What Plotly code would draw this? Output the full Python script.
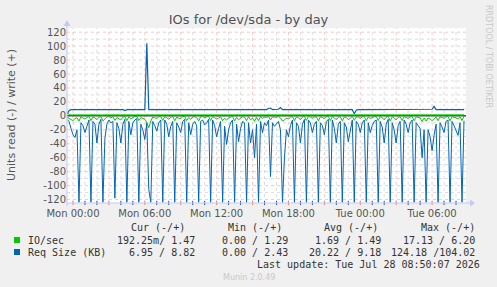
import pandas as pd
import plotly.graph_objects as go

# ---------------- data (10-minute samples, start Sun 23:30) ----------------
start_time = "2026-07-26 23:30"
n_points = 200

read_req_kb = [
    5, 8, 18, 27, 31, 20,
    124, 10, 14, 24, 15, 6,
    124, 8, 12, 39, 12, 5,
    124, 32, 12, 6, 10, 8,
    118, 10, 18, 39, 12, 5,
    124, 8, 27, 10, 6, 4,
    124, 12, 20, 34, 10, 106,
    124, 8, 14, 22, 10, 6,
    124, 6, 12, 30, 15, 8,
    124, 10, 16, 24, 8, 5,
    124, 10, 27, 12, 8, 14,
    124, 8, 6, 13, 10, 5,
    124, 6, 14, 30, 18, 8,
    124, 15, 41, 20, 10, 6,
    124, 12, 37, 18, 8, 10,
    124, 10, 39, 20, 60, 12,
    124, 8, 24, 10, 14, 6,
    87, 10, 15, 12, 8, 20,
    124, 60, 20, 30, 14, 6,
    124, 10, 15, 39, 12, 5,
    124, 6, 10, 24, 12, 8,
    124, 10, 14, 27, 8, 5,
    124, 6, 18, 39, 12, 8,
    124, 10, 16, 37, 20, 6,
    124, 8, 12, 24, 10, 6,
    124, 10, 24, 14, 8, 6,
    124, 8, 16, 39, 12, 5,
    124, 10, 20, 39, 14, 8,
    124, 6, 12, 24, 10, 6,
    124, 10, 14, 18, 60, 20,
    124, 20, 30, 50, 28, 12,
    124, 10, 16, 24, 8, 6,
    124, 8, 14, 22, 28, 10,
    124, 6.95,
]

write_req_kb = [
    2.4, 7.5, 8.9, 8.8, 8.7, 8.8, 8.9, 8.8, 8.8, 8.8,
    8.8, 8.8, 8.8, 8.8, 8.8, 8.8, 8.8, 8.8, 8.8, 8.8,
    8.8, 8.8, 8.8, 8.8, 8.8, 8.8, 8.8, 8.8, 8.8, 7.6,
    8.8, 8.8, 8.8, 8.8, 8.8, 8.0, 8.8, 8.8, 8.8, 8.8,
    104.0, 9.0, 8.8, 8.8, 8.8, 8.8, 8.8, 8.8, 8.8, 8.8,
    8.8, 8.8, 8.8, 8.8, 8.8, 8.8, 8.8, 8.8, 8.8, 8.8,
    8.8, 8.8, 8.8, 8.8, 8.8, 8.8, 8.8, 8.8, 8.8, 8.8,
    8.8, 8.8, 8.8, 8.8, 8.8, 8.8, 8.8, 8.8, 8.8, 8.8,
    8.8, 8.8, 8.8, 8.8, 8.8, 8.8, 8.8, 8.8, 8.8, 8.8,
    8.8, 8.8, 8.8, 8.8, 8.8, 8.8, 8.8, 8.8, 8.8, 8.8,
    8.8, 10.5, 11.2, 8.8, 8.8, 8.8, 9.5, 12.0, 8.8, 8.8,
    8.8, 8.8, 8.8, 8.8, 8.8, 8.8, 8.8, 8.8, 8.8, 8.8,
    8.8, 8.8, 8.8, 8.8, 8.8, 8.8, 8.8, 8.8, 8.8, 8.8,
    8.8, 8.8, 8.8, 8.8, 8.8, 8.8, 8.8, 8.8, 8.8, 8.8,
    8.8, 8.8, 8.8, 8.8, 3.0, 8.0, 8.8, 9.3, 8.8, 8.8,
    8.8, 8.8, 8.8, 8.8, 8.8, 8.8, 8.8, 8.8, 8.8, 8.8,
    8.8, 8.8, 8.8, 8.8, 8.8, 8.8, 8.8, 8.8, 8.8, 8.8,
    8.8, 8.8, 8.8, 8.8, 8.8, 8.8, 8.8, 8.8, 8.8, 8.8,
    8.8, 8.8, 8.8, 9.5, 13.5, 9.0, 8.8, 8.8, 8.8, 8.8,
    8.8, 8.8, 8.8, 8.8, 8.8, 8.8, 8.8, 8.8, 8.8, 8.82,
]

read_io = [
    2.1, 3.5, 5.2, 6.8, 4.0, 2.5, 7.5, 1.2, 3.0, 4.6,
    2.2, 0.8, 6.9, 1.5, 2.8, 5.5, 2.0, 0.9, 7.2, 4.4,
    1.6, 0.7, 3.1, 1.0, 6.5, 2.4, 3.8, 5.9, 2.0, 0.8,
    7.0, 1.3, 4.2, 2.1, 1.0, 0.6, 6.8, 2.5, 3.9, 4.8,
    9.5, 17.1, 7.4, 1.8, 2.9, 3.6, 1.4, 0.9, 6.6, 1.2,
    2.6, 4.9, 2.2, 0.8, 7.1, 1.9, 3.4, 3.8, 1.1, 0.7,
    6.9, 2.3, 5.0, 1.6, 1.2, 2.7, 7.3, 1.0, 0.8, 2.9,
    1.5, 0.6, 6.7, 1.1, 2.6, 4.7, 3.2, 1.2, 7.0, 3.4,
    6.1, 3.0, 1.7, 0.9, 7.2, 2.0, 5.6, 3.1, 1.2, 1.8,
    6.8, 1.4, 5.8, 3.3, 7.9, 1.9, 7.1, 1.0, 3.5, 1.6,
    2.4, 0.8, 5.9, 1.7, 2.2, 1.9, 1.0, 3.0, 7.4, 6.0,
    3.1, 4.4, 2.3, 0.9, 7.0, 1.5, 2.4, 5.8, 1.9, 0.7,
    6.6, 0.9, 1.6, 3.6, 2.0, 1.2, 7.2, 1.4, 2.2, 4.1,
    1.3, 0.8, 6.9, 1.0, 2.8, 5.7, 2.0, 1.3, 7.1, 1.6,
    2.5, 5.5, 3.2, 0.9, 6.4, 1.2, 1.8, 3.7, 1.6, 0.9,
    7.0, 1.5, 3.6, 2.1, 1.3, 0.9, 6.8, 1.2, 2.5, 5.8,
    1.9, 0.8, 7.3, 1.5, 3.0, 5.9, 2.2, 1.2, 6.7, 1.0,
    1.8, 3.7, 1.6, 0.9, 7.0, 1.5, 2.1, 2.8, 8.2, 3.0,
    7.4, 3.0, 4.5, 6.9, 4.2, 1.8, 6.9, 1.5, 2.4, 3.6,
    1.3, 0.9, 7.1, 1.2, 2.0, 3.3, 4.0, 1.5, 6.8, 0.19,
]

write_io = [
    6.2, 1.6, 1.4, 1.3, 1.5, 1.4, 1.4, 1.3, 1.4, 1.5,
    1.4, 1.4, 1.5, 1.3, 1.4, 1.4, 1.5, 1.4, 1.3, 1.4,
    1.4, 1.5, 1.4, 1.4, 1.3, 1.5, 1.4, 1.4, 1.5, 1.3,
    1.4, 1.4, 1.5, 1.4, 1.3, 1.4, 1.4, 1.5, 1.4, 1.4,
    1.6, 1.5, 1.4, 1.3, 1.4, 1.5, 1.4, 1.4, 1.3, 1.4,
    1.5, 1.4, 1.4, 1.3, 1.5, 1.4, 1.4, 1.5, 1.3, 1.4,
    1.4, 1.5, 1.4, 1.4, 1.3, 1.4, 1.5, 1.4, 1.4, 1.3,
    1.4, 1.5, 1.4, 1.3, 1.4, 1.4, 1.5, 1.4, 1.4, 1.3,
    1.5, 1.4, 1.4, 1.3, 1.4, 1.5, 1.4, 1.4, 1.5, 1.3,
    1.4, 1.4, 1.5, 1.4, 1.3, 1.4, 1.4, 1.5, 1.4, 1.4,
    1.5, 1.6, 1.5, 1.4, 1.3, 1.4, 1.5, 1.6, 1.4, 1.3,
    1.4, 1.5, 1.4, 1.4, 1.3, 1.4, 1.5, 1.4, 1.4, 1.3,
    1.4, 1.5, 1.4, 1.3, 1.4, 1.4, 1.5, 1.4, 1.4, 1.3,
    1.5, 1.4, 1.4, 1.3, 1.4, 1.5, 1.4, 1.4, 1.5, 1.3,
    1.4, 1.4, 1.5, 1.4, 1.5, 1.4, 1.4, 1.5, 1.4, 1.4,
    1.5, 1.4, 1.4, 1.3, 1.4, 1.4, 1.5, 1.4, 1.4, 1.3,
    1.4, 1.5, 1.4, 1.4, 1.3, 1.4, 1.5, 1.4, 1.4, 1.3,
    1.4, 1.5, 1.4, 1.3, 1.4, 1.4, 1.5, 1.4, 1.4, 1.3,
    1.5, 1.4, 1.4, 1.5, 1.6, 1.4, 1.4, 1.5, 1.4, 1.3,
    1.4, 1.4, 1.5, 1.4, 1.3, 1.4, 1.5, 1.4, 1.4, 1.47,
]

y_ticks = [-120, -100, -80, -60, -40, -20, 0, 20, 40, 60, 80, 100, 120]
y_tick_labels = ["-120", "-100", "-80", "-60", "-40", "-20", "0",
                 "20", "40", "60", "80", "100", "120"]

legend_header = ["Cur (-/+)", "Min (-/+)", "Avg (-/+)", "Max (-/+)"]
legend_rows = [
    ("IO/sec", "#00cc00", ["192.25m/ 1.47", "0.00 / 1.29", "1.69 / 1.49", "17.13 / 6.20"]),
    ("Req Size (KB)", "#0066b3", ["6.95 / 8.82", "0.00 / 2.43", "20.22 / 9.18", "124.18 /104.02"]),
]

# ---------------- layout geometry ----------------
W, H = 497, 287
L, R, T, B = 67, 466, 28, 203


def px(x):
    return (x - L) / (R - L)


def py(y):
    return (B - y) / (B - T)


times = pd.date_range(start_time, periods=n_points, freq="10min")
x_start = times[0]
x_end = times[0] + pd.Timedelta(minutes=10 * n_points)

GREEN = "#00cc00"
BLUE = "#0066b3"

fig = go.Figure()
fig.add_trace(go.Scatter(x=times, y=[-v for v in read_req_kb], mode="lines",
                         line=dict(color=BLUE, width=1), hoverinfo="skip"))
fig.add_trace(go.Scatter(x=times, y=write_req_kb, mode="lines",
                         line=dict(color=BLUE, width=1.2), hoverinfo="skip"))
fig.add_trace(go.Scatter(x=[x_start, x_end], y=[0, 0], mode="lines",
                         line=dict(color="#000000", width=1), hoverinfo="skip"))
fig.add_trace(go.Scatter(x=times, y=[-v for v in read_io], mode="lines",
                         line=dict(color=GREEN, width=1), hoverinfo="skip"))
fig.add_trace(go.Scatter(x=times, y=write_io, mode="lines",
                         line=dict(color=GREEN, width=1), hoverinfo="skip"))

shapes = []
RED_GRID = "rgba(220,90,90,0.32)"
GREY_GRID = "rgba(150,150,150,0.32)"
# horizontal grid
for v in range(-120, 121, 10):
    shapes.append(dict(type="line", xref="paper", yref="y", x0=0, x1=1, y0=v, y1=v,
                       line=dict(color=RED_GRID if v % 20 == 0 else GREY_GRID,
                                 width=1, dash="dot"), layer="below"))
# vertical grid (hourly, red every 3 hours)
t = pd.Timestamp("2026-07-27 00:00")
while t < x_end:
    major = (t.hour % 3 == 0)
    shapes.append(dict(type="line", xref="x", yref="paper", x0=t, x1=t, y0=0, y1=1,
                       line=dict(color=RED_GRID if major else GREY_GRID,
                                 width=1, dash="dot"), layer="below"))
    # small axis ticks
    shapes.append(dict(type="line", xref="x", yref="paper", x0=t, x1=t,
                       y0=py(205), y1=py(201),
                       line=dict(color="#e08080" if major else "#1f4fbf", width=1),
                       layer="above"))
    t += pd.Timedelta(hours=1)

AXIS_C = "#c8c8f0"
# axis lines with arrows
shapes.append(dict(type="line", xref="paper", yref="paper", x0=0, x1=px(470),
                   y0=0, y1=0, line=dict(color=AXIS_C, width=1), layer="above"))
shapes.append(dict(type="line", xref="paper", yref="paper", x0=0, x1=0,
                   y0=py(206), y1=py(25), line=dict(color=AXIS_C, width=1), layer="above"))
shapes.append(dict(type="path", xref="paper", yref="paper",
                   path=f"M {px(470)} {py(199.5)} L {px(475)} {py(203)} L {px(470)} {py(206.5)} Z",
                   fillcolor=AXIS_C, line=dict(width=0), layer="above"))
shapes.append(dict(type="path", xref="paper", yref="paper",
                   path=f"M {px(63.5)} {py(26)} L {px(67)} {py(20)} L {px(70.5)} {py(26)} Z",
                   fillcolor=AXIS_C, line=dict(width=0), layer="above"))

# legend squares
for k, (name, color, vals) in enumerate(legend_rows):
    yc = 240 + 12 * k
    shapes.append(dict(type="rect", xref="paper", yref="paper",
                       x0=px(14), x1=px(20), y0=py(yc + 3), y1=py(yc - 3),
                       fillcolor=color, line=dict(width=0), layer="above"))

annotations = []
MONO = "DejaVu Sans Mono"
TXT = "#333333"
header_right = [187, 284, 380, 477]
for h, xr in zip(legend_header, header_right):
    annotations.append(dict(text=h, x=px(xr), y=py(227), xref="paper", yref="paper",
                            xanchor="right", yanchor="middle", showarrow=False,
                            font=dict(family=MONO, size=10, color=TXT)))
value_right = [197, 290, 383, 477]
for k, (name, color, vals) in enumerate(legend_rows):
    yc = 240 + 12 * k
    annotations.append(dict(text=name, x=px(26), y=py(yc), xref="paper", yref="paper",
                            xanchor="left", yanchor="middle", showarrow=False,
                            font=dict(family=MONO, size=10, color=TXT)))
    for v, xr in zip(vals, value_right):
        annotations.append(dict(text=v, x=px(xr), y=py(yc), xref="paper", yref="paper",
                                xanchor="right", yanchor="middle", showarrow=False,
                                font=dict(family=MONO, size=10, color=TXT)))
annotations.append(dict(text="Last update: Tue Jul 28 08:50:07 2026", x=px(482), y=py(264),
                        xref="paper", yref="paper", xanchor="right", yanchor="middle",
                        showarrow=False, font=dict(family=MONO, size=10, color=TXT)))
annotations.append(dict(text="Munin 2.0.49", x=px(249), y=py(277), xref="paper", yref="paper",
                        xanchor="center", yanchor="middle", showarrow=False,
                        font=dict(family="DejaVu Sans", size=8, color="#c8c8c8")))
annotations.append(dict(text="Units read (-) / write (+)", x=px(11), y=py(115),
                        xref="paper", yref="paper", xanchor="center", yanchor="middle",
                        textangle=-90, showarrow=False,
                        font=dict(family="DejaVu Sans", size=11, color="#555555")))
annotations.append(dict(text="RRDTOOL / TOBI OETIKER", x=px(489), y=py(56),
                        xref="paper", yref="paper", xanchor="center", yanchor="middle",
                        textangle=90, showarrow=False,
                        font=dict(family="DejaVu Sans", size=8, color="#c8c8c8")))

fig.update_layout(
    width=W, height=H,
    margin=dict(l=L, r=W - R, t=T, b=H - B),
    paper_bgcolor="#f0f0f0",
    plot_bgcolor="#ffffff",
    showlegend=False,
    title=dict(text="IOs for /dev/sda - by day", x=0.5, xref="container", xanchor="center",
               y=1 - 19 / H, yref="container", yanchor="middle",
               font=dict(family="DejaVu Sans", size=13, color="#505050")),
    xaxis=dict(type="date", range=[x_start, x_end], showgrid=False, zeroline=False,
               showline=False, ticks="", tick0="2026-07-27 00:00",
               dtick=6 * 3600 * 1000, tickformat="%a %H:%M", ticklabelstandoff=3,
               tickfont=dict(family="DejaVu Sans", size=10, color="#555555")),
    yaxis=dict(range=[-125, 126], showgrid=False, zeroline=False, showline=False,
               ticks="", tickvals=y_ticks, ticktext=y_tick_labels,
               tickfont=dict(family="DejaVu Sans", size=10, color="#555555")),
    shapes=shapes,
    annotations=annotations,
)

fig.write_html("out.html")
